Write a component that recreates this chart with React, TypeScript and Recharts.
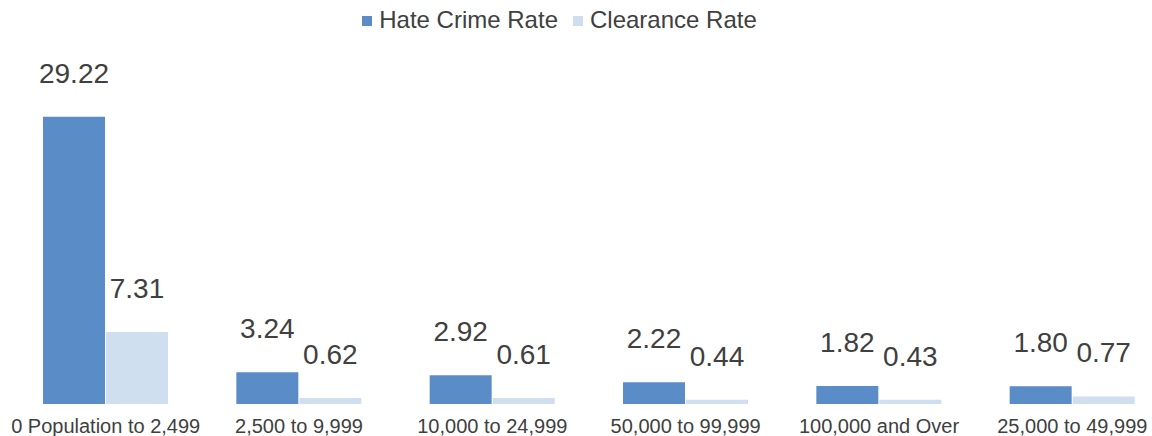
import { BarChart, Bar, XAxis, YAxis, Legend, LabelList } from 'recharts'

const categories = ['0 Population to 2,499', '2,500 to 9,999', '10,000 to 24,999', '50,000 to 99,999', '100,000 and Over', '25,000 to 49,999']
const hateCrimeRate = [29.22, 3.24, 2.92, 2.22, 1.82, 1.80]
const clearanceRate = [7.31, 0.62, 0.61, 0.44, 0.43, 0.77]

const HATE = '#5A8DC8'
const CLEAR = '#D0DFEF'
const TEXT = '#404040'
const FONT = '"Liberation Sans", Arial, sans-serif'

const data = categories.map((name, i) => ({ name, hate: hateCrimeRate[i], clearance: clearanceRate[i] }))

const legendItems = [
  { label: 'Hate Crime Rate', color: HATE },
  { label: 'Clearance Rate', color: CLEAR },
]

// legend is drawn by hand so the square icons and spacing match
const renderLegend = () => (
  <div style={{ display: 'flex', justifyContent: 'center', alignItems: 'center', gap: 15, fontFamily: FONT, fontSize: 24, color: TEXT, height: 26 }}>
    {legendItems.map(it => (
      <div key={it.label} style={{ display: 'flex', alignItems: 'center', gap: 7 }}>
        <span style={{ width: 10, height: 10, background: it.color, display: 'inline-block', marginTop: 2 }} />
        <span>{it.label}</span>
      </div>
    ))}
  </div>
)

const fmt = (v: any) => Number(v).toFixed(2)

export default function App() {
  return (
    <div style={{ position: 'absolute', left: 0, top: 0, width: 1152, height: 436, overflow: 'hidden', background: '#fff' }}>
      <BarChart width={1170} height={436} data={data} margin={{ top: 83, right: 1, left: 9, bottom: 2 }}
        barCategoryGap={34} barGap={1}>
        <XAxis dataKey="name" axisLine={false} tickLine={false} tickMargin={9} interval={0} height={30}
          tick={{ fontFamily: FONT, fontSize: 20, fill: TEXT }} />
        <YAxis hide domain={[0, 30]} />
        <Legend verticalAlign="top" height={26} content={renderLegend} wrapperStyle={{ top: 7, left: 0, width: 1119 }} />
        <Bar dataKey="hate" fill={HATE} isAnimationActive={false}>
          <LabelList dataKey="hate" position="top" offset={34} formatter={fmt}
            style={{ fontFamily: FONT, fontSize: 28, fill: TEXT }} />
        </Bar>
        <Bar dataKey="clearance" fill={CLEAR} isAnimationActive={false}>
          <LabelList dataKey="clearance" position="top" offset={34} formatter={fmt}
            style={{ fontFamily: FONT, fontSize: 28, fill: TEXT }} />
        </Bar>
      </BarChart>
    </div>
  )
}
